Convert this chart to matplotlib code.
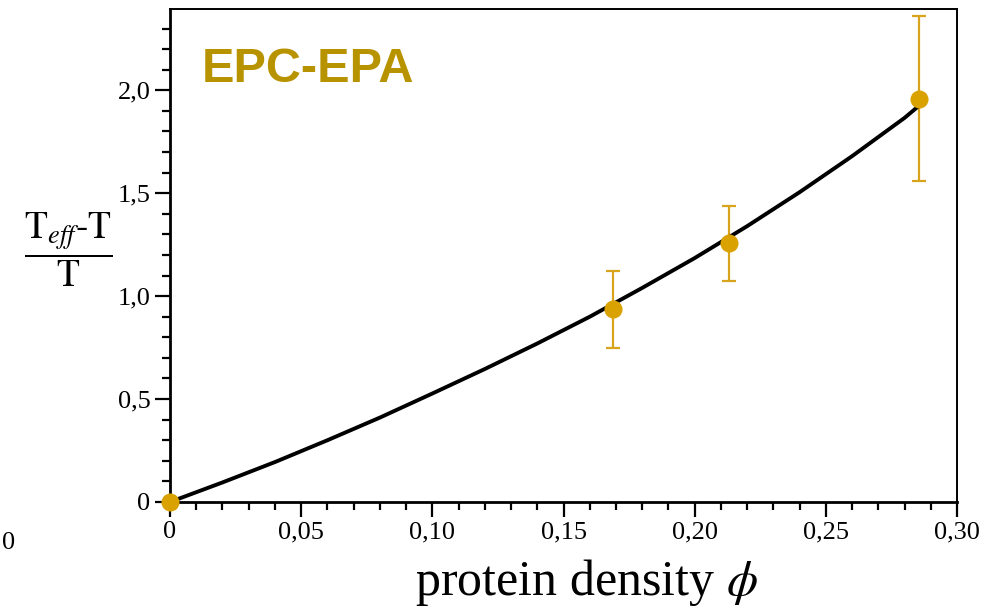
import numpy as np
import matplotlib.pyplot as plt
from matplotlib.ticker import MultipleLocator, FixedLocator

plt.rcParams['mathtext.fontset'] = 'stix'
plt.rcParams['font.family'] = ['Liberation Serif', 'DejaVu Serif']

# measured points (protein density, (Teff-T)/T) with error bars
phi = [0.0, 0.169, 0.213, 0.2857]
ratio = [0.0, 0.937, 1.256, 1.960]
err_lo = [0.0, 0.191, 0.183, 0.400]
err_hi = [0.0, 0.186, 0.184, 0.399]

# model curve
curve_phi = [0.0, 0.02, 0.04, 0.06, 0.08, 0.10, 0.12, 0.14, 0.16,
             0.18, 0.20, 0.22, 0.24, 0.26, 0.28, 0.2857]
curve_ratio = [0.0, 0.095, 0.194, 0.300, 0.410, 0.527, 0.646, 0.770, 0.900,
               1.040, 1.185, 1.340, 1.505, 1.680, 1.866, 1.927]

xticks = [0, 0.05, 0.10, 0.15, 0.20, 0.25, 0.30]
xlabels = ['0', '0,05', '0,10', '0,15', '0,20', '0,25', '0,30']
yticks = [0, 0.5, 1.0, 1.5, 2.0]
ylabels = ['0', '0,5', '1,0', '1,5', '2,0']

gold = '#D9A200'

fig = plt.figure(figsize=(9.99, 6.10), dpi=100)
ax = fig.add_axes([170/999, 1-502/610, (957-170)/999, (502-9)/610])

ax.plot(curve_phi, curve_ratio, color='black', lw=2.8, zorder=3,
        clip_on=False, solid_capstyle='butt')
ax.errorbar(phi[1:], ratio[1:], yerr=[err_lo[1:], err_hi[1:]], fmt='none',
            ecolor='#D8A41C', elinewidth=1.6, capsize=4.7, capthick=1.6, zorder=2)
ax.plot(phi, ratio, 'o', color=gold, ms=13, mec='none', zorder=4, clip_on=False)

ax.set_xlim(0, 0.30)
ax.set_ylim(0, 2.395)

ax.xaxis.set_major_locator(FixedLocator(xticks))
ax.set_xticklabels(xlabels)
ax.xaxis.set_minor_locator(MultipleLocator(0.01))
ax.yaxis.set_major_locator(FixedLocator(yticks))
ax.set_yticklabels(ylabels)
ax.yaxis.set_minor_locator(MultipleLocator(0.1))

ax.tick_params(which='major', direction='out', length=11, width=1.6,
               labelsize=19, pad=3)
ax.tick_params(which='minor', direction='out', length=6, width=1.6)

for s in ['left', 'bottom']:
    ax.spines[s].set_linewidth(2)
for s in ['top', 'right']:
    ax.spines[s].set_linewidth(1.4)
    ax.spines[s].set_color('black')

ax.text(0.012, 2.10, 'EPC-EPA', color='#B89300', fontsize=35,
        fontweight='bold', family='Liberation Sans', va='center', ha='left')

fig.text(586/999, 1-582/610, r'protein density $\phi$', fontsize=36,
         ha='center', va='center')
fig.text(68/999, 1-250/610,
         r'$\dfrac{\mathrm{T}_{\mathit{eff}}\mathrm{\text{-}T}}{\mathrm{T}}$',
         fontsize=27, ha='center', va='center')
fig.text(2/999, 1-543/610, '0', fontsize=19, ha='left', va='center')

fig.savefig('out.png', dpi=100)
